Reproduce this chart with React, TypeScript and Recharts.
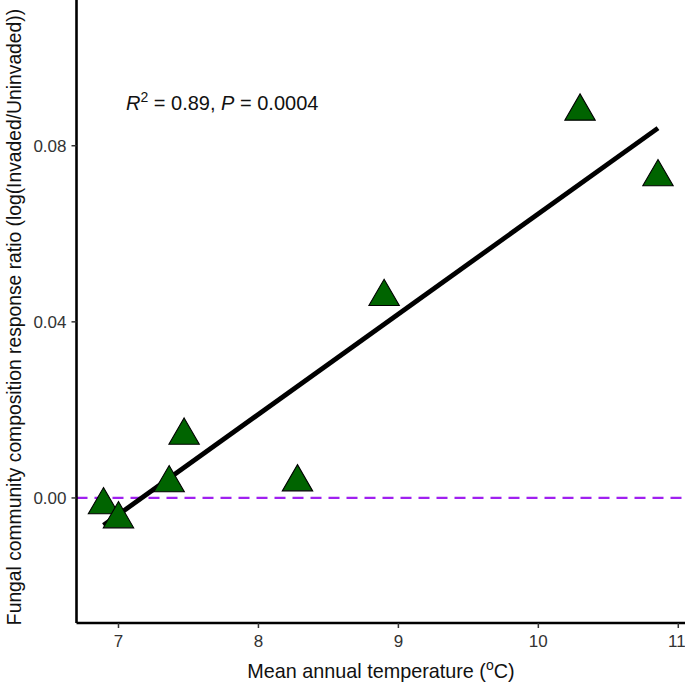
import React from "react";
import {
    ComposedChart,
    Scatter,
    XAxis,
    YAxis,
    ReferenceLine,
    Label,
    Customized
} from "recharts";

// mean annual temperature (°C) per site
const temperature = [6.893, 7.0, 7.362, 7.469, 8.279, 8.898, 10.298, 10.855];
// log(Invaded/Uninvaded) response ratio
const responseRatio = [-0.0016, -0.0048, 0.0034, 0.0142, 0.0036, 0.0457, 0.0878, 0.0729];

// fitted regression line ends
const fitTemperature = [6.893, 10.855];
const fitRatio = [-0.0062, 0.084];

const xTicks = [7, 8, 9, 10, 11];
const yTicks = [0, 0.04, 0.08];

const FONT = "'Liberation Sans', Arial, Helvetica, sans-serif";

const points = temperature.map((t, i) => ({ x: t, y: responseRatio[i] }));
const fitLine = fitTemperature.map((t, i) => ({ x: t, y: fitRatio[i] }));

const Triangle = (props: any) => {
    const { cx, cy } = props;
    if (cx == null || cy == null) return null;
    // centroid-centered equilateral triangle, like R's pch 24
    const r = 17.5;
    const half = 15.2;
    const pts = `${cx},${cy - r} ${cx + half},${cy + r / 2} ${cx - half},${cy + r / 2}`;
    return <polygon points={pts} fill="#006400" stroke="#000" strokeWidth={1.1} />;
};

const NoDot = () => null;

const StatsNote = () => (
    <text x={126} y={110} fontFamily={FONT} fontSize={20} fill="#111">
        <tspan fontStyle="italic">R</tspan>
        <tspan dy={-8} fontSize={14}>2</tspan>
        <tspan dy={8}> = 0.89, </tspan>
        <tspan fontStyle="italic">P</tspan>
        <tspan> = 0.0004</tspan>
    </text>
);

export default function App() {
    return (
        <div style={{ position: "absolute", left: 0, top: 0, width: 685, height: 683, background: "#fff" }}>
            <ComposedChart
                width={685}
                height={683}
                margin={{ top: 0, right: 0, left: 0, bottom: 0 }}
            >
                <XAxis
                    type="number"
                    dataKey="x"
                    domain={[6.7, 11.048]}
                    ticks={xTicks}
                    allowDataOverflow
                    height={60}
                    tickSize={5}
                    tickMargin={7}
                    tick={{ fontSize: 17, fill: "#333", fontFamily: FONT }}
                    tickLine={{ stroke: "#333", strokeWidth: 1.5 }}
                    axisLine={{ stroke: "#000", strokeWidth: 2.6 }}
                >
                    <Label
                        content={() => (
                            <text
                                x={381}
                                y={678}
                                textAnchor="middle"
                                fontFamily={FONT}
                                fontSize={19.8}
                                fill="#111"
                            >
                                Mean annual temperature (
                                <tspan dy={-8} fontSize={14}>o</tspan>
                                <tspan dy={8}>C)</tspan>
                            </text>
                        )}
                    />
                </XAxis>
                <YAxis
                    type="number"
                    dataKey="y"
                    domain={[-0.0284, 0.1131]}
                    ticks={yTicks}
                    allowDataOverflow
                    width={76.5}
                    tickSize={5}
                    tickMargin={5}
                    tickFormatter={(v: number) => v.toFixed(2)}
                    tick={{ fontSize: 17, fill: "#333", fontFamily: FONT }}
                    tickLine={{ stroke: "#333", strokeWidth: 1.5 }}
                    axisLine={{ stroke: "#000", strokeWidth: 2.6 }}
                >
                    <Label
                        content={() => (
                            <text
                                x={21}
                                y={317}
                                transform="rotate(-90 21 317)"
                                textAnchor="middle"
                                fontFamily={FONT}
                                fontSize={19.3}
                                fill="#111"
                            >
                                Fungal community composition response ratio (log(Invaded/Uninvaded))
                            </text>
                        )}
                    />
                </YAxis>
                <ReferenceLine
                    y={0}
                    stroke="#a020f0"
                    strokeWidth={2.2}
                    strokeDasharray="11 7"
                />
                <Scatter
                    data={fitLine}
                    line={{ stroke: "#000", strokeWidth: 4.8 }}
                    shape={NoDot}
                    isAnimationActive={false}
                />
                <Scatter
                    data={points}
                    shape={Triangle}
                    isAnimationActive={false}
                />
                <Customized component={StatsNote} />
            </ComposedChart>
        </div>
    );
}
